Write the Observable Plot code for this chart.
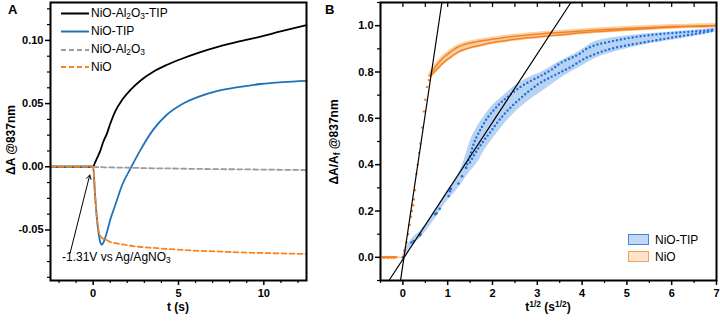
<!DOCTYPE html>
<html><head><meta charset="utf-8">
<script src="https://cdn.jsdelivr.net/npm/d3@7"></script>
<script src="https://cdn.jsdelivr.net/npm/@observablehq/plot@0.6"></script>
<style>
body{margin:0;background:#fff;}
#wrap{position:relative;width:720px;height:322px;font-family:"Liberation Sans",Arial,sans-serif;color:#000;overflow:hidden}
.abs{position:absolute;white-space:nowrap;line-height:1}
.rot{transform:translate(-50%,-50%) rotate(-90deg)}
sub{font-size:70%;vertical-align:-0.25em;line-height:0}
sup{font-size:70%;vertical-align:0.45em;line-height:0}
</style></head>
<body>
<div id="wrap">
  <div id="pa" class="abs" style="left:0;top:0"></div>
  <div id="pb" class="abs" style="left:320px;top:0"></div>
  <div class="abs" style="left:8px;top:3px;font-weight:bold;font-size:13px">A</div>
  <div class="abs" style="left:325px;top:3px;font-weight:bold;font-size:13px">B</div>
  <div class="abs rot" style="left:11px;top:140px;font-weight:bold;font-size:12px">ΔA @837nm</div>
  <div class="abs rot" style="left:334px;top:142px;font-weight:bold;font-size:12px">ΔA/A<sub>f</sub> @837nm</div>
  <div class="abs" style="left:178px;top:307px;transform:translate(-50%,-50%);font-weight:bold;font-size:12px">t (s)</div>
  <div class="abs" style="left:548px;top:307px;transform:translate(-50%,-50%);font-weight:bold;font-size:12px">t<sup>1/2</sup> (s<sup>1/2</sup>)</div>
  <div class="abs" style="left:62px;top:251px;font-size:12px">-1.31V vs Ag/AgNO<sub>3</sub></div>
  <svg class="abs" style="left:0;top:0" width="100" height="80">
    <line x1="61" x2="89" y1="13.5" y2="13.5" stroke="#000" stroke-width="2"/>
    <line x1="61" x2="89" y1="31.5" y2="31.5" stroke="#1f72b8" stroke-width="2"/>
    <line x1="61" x2="89" y1="50" y2="50" stroke="#9a9a9a" stroke-width="2" stroke-dasharray="5,3"/>
    <line x1="61" x2="89" y1="67" y2="67" stroke="#f7841f" stroke-width="2" stroke-dasharray="5,3"/>
  </svg>
  <div class="abs" style="left:91px;top:7px;font-size:12px">NiO-Al<sub>2</sub>O<sub>3</sub>-TIP</div>
  <div class="abs" style="left:91px;top:25px;font-size:12px">NiO-TIP</div>
  <div class="abs" style="left:91px;top:43px;font-size:12px">NiO-Al<sub>2</sub>O<sub>3</sub></div>
  <div class="abs" style="left:91px;top:61px;font-size:12px">NiO</div>
  <div class="abs" style="left:628px;top:234px;width:19px;height:9px;background:#c3d8f3;border:1.5px solid #3f86df"></div>
  <div class="abs" style="left:628px;top:251px;width:19px;height:9px;background:#fde3cd;border:1.5px solid #f6a04d"></div>
  <div class="abs" style="left:655px;top:234px;font-size:12px">NiO-TIP</div>
  <div class="abs" style="left:655px;top:251px;font-size:12px">NiO</div>
</div>
<script>
// ---------- Panel A data ----------
const tA = [-2.5, -1, 0, 0.1, 0.2, 0.3, 0.4, 0.5, 0.6, 0.8, 1.0, 1.3, 1.7, 2.2, 2.8, 3.5, 4.3, 5.2, 6.2, 7.3, 8.5, 9.8, 11.1, 12.5];
const aNiOAl2O3TIP = [0, 0, 0, 0.003, 0.006, 0.009, 0.012, 0.016, 0.02, 0.026, 0.034, 0.044, 0.053, 0.061, 0.0685, 0.075, 0.0805, 0.0855, 0.0903, 0.0948, 0.099, 0.103, 0.1075, 0.112];
const aNiOTIP = [0, 0, 0, -0.02, -0.038, -0.051, -0.059, -0.0617, -0.06, -0.052, -0.042, -0.03, -0.0144, -0.001, 0.014, 0.029, 0.041, 0.0495, 0.0555, 0.06, 0.063, 0.0655, 0.067, 0.068];
const aNiOAl2O3 = [null, null, 0, -0.0001, -0.0002, -0.0002, -0.0003, -0.0003, -0.0004, -0.0004, -0.0005, -0.0006, -0.0007, -0.0008, -0.001, -0.0012, -0.0013, -0.0015, -0.0017, -0.0019, -0.002, -0.0022, -0.0024, -0.0026];
const aNiO = [0, 0, 0, -0.02, -0.038, -0.049, -0.054, -0.056, -0.057, -0.058, -0.0595, -0.0605, -0.0615, -0.0625, -0.0635, -0.0642, -0.065, -0.0658, -0.0665, -0.067, -0.0677, -0.0682, -0.0686, -0.069];
const arrowA = {x1: -1.35, y1: -0.0683, x2: -0.2, y2: -0.0065};
const aXTicks = [0, 5, 10];
const aXMinor = [-2, -1, 1, 2, 3, 4, 6, 7, 8, 9, 11, 12];
const aYTicks = [-0.05, 0, 0.05, 0.1];
const aYMinor = [-0.0875, -0.075, -0.0625, -0.0375, -0.025, -0.0125, 0.0125, 0.025, 0.0375, 0.0625, 0.075, 0.0875, 0.1125, 0.125];

// ---------- Panel B data ----------
const bNiOx = [-0.45, -0.43, -0.41, -0.39, -0.37, -0.35, -0.33, -0.31, -0.29, -0.27, -0.25, -0.23, -0.21, -0.19, -0.17, -0.15, 0, 0.03, 0.08, 0.12, 0.15, 0.18, 0.2, 0.23, 0.245, 0.27, 0.3, 0.33, 0.36, 0.39, 0.43, 0.47, 0.5, 0.54, 0.58, 0.61];
const bNiOy = [0.002, -0.002, 0.001, -0.001, 0.002, 0, -0.002, 0.001, 0.002, -0.001, 0, 0.001, -0.002, 0.001, 0, 0.001, 0, 0.03, 0.065, 0.1, 0.14, 0.175, 0.2, 0.225, 0.25, 0.29, 0.36, 0.4, 0.45, 0.49, 0.56, 0.63, 0.68, 0.735, 0.765, 0.784];
const bNiOtx = [0.61, 0.65, 0.7, 0.75, 0.8, 0.87, 0.95, 1.05, 1.15, 1.24, 1.35, 1.5, 1.65, 1.8, 1.98, 2.2, 2.45, 2.7, 3.0, 3.3, 3.6, 3.98, 4.4, 4.8, 5.2, 5.6, 6.0, 6.4, 6.8, 6.98];
const bNiOup = [0.784, 0.8, 0.815, 0.828, 0.84, 0.856, 0.87, 0.885, 0.899, 0.909, 0.917, 0.925, 0.931, 0.936, 0.941, 0.947, 0.953, 0.958, 0.963, 0.968, 0.972, 0.977, 0.982, 0.986, 0.99, 0.993, 0.996, 0.998, 1.0, 1.001];
const bNiOlo = [0.784, 0.79, 0.8, 0.81, 0.82, 0.834, 0.848, 0.862, 0.876, 0.887, 0.896, 0.905, 0.912, 0.919, 0.926, 0.933, 0.94, 0.946, 0.951, 0.957, 0.962, 0.969, 0.975, 0.98, 0.985, 0.989, 0.993, 0.996, 0.998, 1.0];
const bTIPx = [0, 0.19, 0.24, 0.37, 0.39, 0.72, 0.75, 0.82, 1.02, 1.05, 1.07, 1.24, 1.32, 1.41];
const bTIPy = [0, 0.064, 0.07, 0.095, 0.1, 0.186, 0.19, 0.21, 0.265, 0.285, 0.295, 0.319, 0.35, 0.387];
const bTIPupx = [1.41, 1.5, 1.58, 1.66, 1.76, 1.88, 2.02, 2.13, 2.24, 2.35, 2.46, 2.62, 2.79, 2.94, 3.09, 3.3, 3.53, 3.75, 3.94, 4.1, 4.27, 4.6, 5.0, 5.38, 5.8, 6.2, 6.49, 6.75, 6.97];
const bTIPup = [0.387, 0.44, 0.49, 0.525, 0.562, 0.6, 0.634, 0.657, 0.677, 0.695, 0.712, 0.735, 0.755, 0.77, 0.785, 0.808, 0.84, 0.86, 0.878, 0.9, 0.914, 0.93, 0.945, 0.956, 0.965, 0.971, 0.975, 0.979, 0.985];
const bTIPlox = [1.5, 1.6, 1.76, 1.87, 1.98, 2.12, 2.27, 2.42, 2.57, 2.8, 3.02, 3.27, 3.53, 3.75, 3.94, 4.1, 4.27, 4.6, 5.0, 5.38, 5.8, 6.2, 6.49, 6.75, 6.97];
const bTIPlo = [0.41, 0.445, 0.491, 0.52, 0.548, 0.585, 0.62, 0.65, 0.677, 0.715, 0.748, 0.775, 0.8, 0.822, 0.845, 0.862, 0.876, 0.898, 0.915, 0.928, 0.942, 0.955, 0.963, 0.972, 0.98];
const bTIPbandx = [0, 0.2, 0.4, 0.73, 1.0, 1.2, 1.35, 1.5, 1.65, 1.8, 2.0, 2.2, 2.5, 2.8, 3.1, 3.5, 3.94, 4.27, 5.0, 5.38, 6.0, 6.49, 6.97];
const bTIPbandHi = [0.012, 0.08, 0.115, 0.205, 0.29, 0.34, 0.41, 0.5, 0.56, 0.605, 0.655, 0.69, 0.74, 0.775, 0.8, 0.845, 0.89, 0.93, 0.955, 0.964, 0.973, 0.98, 0.99];
const bTIPbandLo = [-0.012, 0.05, 0.085, 0.17, 0.245, 0.29, 0.33, 0.37, 0.405, 0.455, 0.51, 0.56, 0.625, 0.675, 0.715, 0.77, 0.82, 0.856, 0.9, 0.917, 0.937, 0.953, 0.972];
const fitNiOx = [-0.053, 0.87], fitNiOy = [-0.1, 1.1];
const fitTIPx = [-0.31, 3.75], fitTIPy = [-0.1, 1.1];
const bXTicks = [0, 1, 2, 3, 4, 5, 6, 7];
const bXMinor = [-0.5, 0.5, 1.5, 2.5, 3.5, 4.5, 5.5, 6.5];
const bXTop = [-0.5, 0, 0.5, 1, 1.5, 2, 2.5, 3, 3.5, 4, 4.5, 5, 5.5, 6, 6.5, 7];
const bYTicks = [0, 0.2, 0.4, 0.6, 0.8, 1.0];
const bYMinor = [-0.1, 0.1, 0.3, 0.5, 0.7, 0.9, 1.1];

const C = {black:"#000", blue:"#1f72b8", grey:"#9a9a9a", orange:"#f7841f",
  bBlue:"#1b6fe0", bBand:"#b8d2f2", bOrange:"#f58220", oBand:"#fbcfa6"};
const FONT = {fontFamily:"'Liberation Sans', Arial, sans-serif", fontSize:"11px", fontWeight:"bold", overflow:"visible", background:"transparent"};

const rowsA = tA.map((t,i)=>({t, k:aNiOAl2O3TIP[i], b:aNiOTIP[i], g:aNiOAl2O3[i], o:aNiO[i]}));

const plotA = Plot.plot({
  width:320, height:322, marginLeft:50, marginRight:14, marginTop:2, marginBottom:42,
  style: FONT,
  x:{domain:[-2.5,12.5]}, y:{domain:[-0.09,0.13]},
  marks:[
    Plot.line(rowsA, {x:"t", y:"k", stroke:C.black, strokeWidth:1.8, curve:"monotone-x"}),
    Plot.line(rowsA, {x:"t", y:"b", stroke:C.blue, strokeWidth:1.8, curve:"monotone-x"}),
    Plot.line(rowsA, {x:"t", y:"g", stroke:C.grey, strokeWidth:1.8, strokeDasharray:"5,3", curve:"monotone-x"}),
    Plot.line(rowsA, {x:"t", y:"o", stroke:C.orange, strokeWidth:1.8, strokeDasharray:"5,3", curve:"monotone-x"}),
    Plot.arrow([arrowA], {x1:"x1", y1:"y1", x2:"x2", y2:"y2", stroke:"#000", strokeWidth:1, headLength:7}),
    Plot.axisX(aXTicks, {tickSize:5, strokeWidth:1.5, label:null, tickPadding:4}),
    Plot.axisX(aXMinor, {tickSize:3, strokeWidth:1.2, label:null, tickFormat:()=>""}),
    Plot.axisY(aYTicks, {tickSize:5, strokeWidth:1.5, label:null, tickFormat:d=>d.toFixed(2), tickPadding:2}),
    Plot.axisY(aYMinor, {tickSize:3, strokeWidth:1.2, label:null, tickFormat:()=>""}),
    Plot.frame({stroke:"#000", strokeWidth:2})
  ]
});
document.getElementById("pa").appendChild(plotA);

const nioSingle = bNiOx.map((x,i)=>({x, y:bNiOy[i]}));
const nioTracks = bNiOtx.map((x,i)=>({x, u:bNiOup[i], l:bNiOlo[i]}));
const tipSingle = bTIPx.map((x,i)=>({x, y:bTIPy[i]}));
const tipUp = bTIPupx.map((x,i)=>({x, y:bTIPup[i]}));
const tipLo = bTIPlox.map((x,i)=>({x, y:bTIPlo[i]}));
const tipBand = bTIPbandx.map((x,i)=>({x, lo:bTIPbandLo[i], hi:bTIPbandHi[i]}));
const fit1 = fitNiOx.map((x,i)=>({x, y:fitNiOy[i]}));
const fit2 = fitTIPx.map((x,i)=>({x, y:fitTIPy[i]}));

const plotB = Plot.plot({
  width:400, height:322, marginLeft:60, marginRight:4, marginTop:2, marginBottom:42,
  style: FONT,
  x:{domain:[-0.5,7]}, y:{domain:[-0.1,1.1]},
  marks:[
    Plot.areaY(tipBand, {x:"x", y1:"lo", y2:"hi", fill:C.bBand, curve:"monotone-x"}),
    Plot.areaY(nioTracks, {x:"x", y1:"l", y2:"u", fill:C.oBand, stroke:C.oBand, strokeWidth:4, curve:"monotone-x"}),
    Plot.line(nioSingle.filter(d=>d.x<0.1), {x:"x", y:"y", stroke:"#f6c79c", strokeWidth:1.2}),
    Plot.line(nioTracks, {x:"x", y:"u", stroke:C.bOrange, strokeWidth:1.5, curve:"monotone-x"}),
    Plot.line(nioTracks, {x:"x", y:"l", stroke:C.bOrange, strokeWidth:1.5, curve:"monotone-x"}),
    Plot.dot(nioSingle, {x:"x", y:"y", r:1.2, fill:C.bOrange}),
    Plot.dot(tipSingle, {x:"x", y:"y", r:1.3, fill:C.bBlue}),
    Plot.line(tipUp, {x:"x", y:"y", stroke:C.bBlue, strokeWidth:2.4, strokeDasharray:"0,4", strokeLinecap:"round", curve:"monotone-x"}),
    Plot.line(tipLo, {x:"x", y:"y", stroke:C.bBlue, strokeWidth:2.4, strokeDasharray:"0,4", strokeLinecap:"round", curve:"monotone-x"}),
    Plot.line(fit1, {x:"x", y:"y", stroke:"#000", strokeWidth:1.2}),
    Plot.line(fit2, {x:"x", y:"y", stroke:"#000", strokeWidth:1.2}),
    Plot.axisX(bXTicks, {tickSize:5, strokeWidth:1.5, label:null, tickPadding:4}),
    Plot.axisX(bXMinor, {tickSize:3, strokeWidth:1.2, label:null, tickFormat:()=>""}),
    Plot.axisX(bXTop, {anchor:"top", tickSize:-4, strokeWidth:1.2, label:null, tickFormat:()=>""}),
    Plot.axisY(bYTicks, {tickSize:5, strokeWidth:1.5, label:null, tickFormat:d=>d.toFixed(1), tickPadding:2}),
    Plot.axisY(bYMinor, {tickSize:3, strokeWidth:1.2, label:null, tickFormat:()=>""}),
    Plot.frame({stroke:"#000", strokeWidth:2})
  ]
});
document.getElementById("pb").appendChild(plotB);
</script>
</body></html>
